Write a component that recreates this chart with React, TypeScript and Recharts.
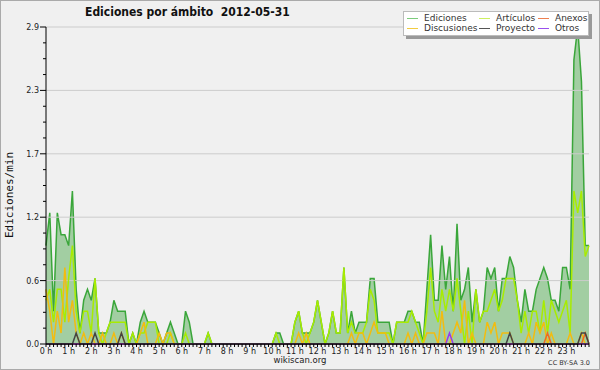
import React from "react";
import { ComposedChart, Area, Line, XAxis, YAxis, ReferenceLine } from "recharts";

// one value every 10 minutes, 0 h .. 24 h (145 points)
const hourLabels = [
  "0 h", "1 h", "2 h", "3 h", "4 h", "5 h", "6 h", "7 h", "8 h", "9 h", "10 h", "11 h",
  "12 h", "13 h", "14 h", "15 h", "16 h", "17 h", "18 h", "19 h", "20 h", "21 h", "22 h", "23 h",
];

const ediciones = [
  0.9, 1.2, 0.3, 1.2, 1.0, 1.0,
  0.9, 1.4, 0.5, 0.1, 0.4, 0.5,
  0.4, 0.6, 0.1, 0.1, 0.1, 0.2,
  0.4, 0.3, 0.3, 0.3, 0.0, 0.1,
  0.0, 0.2, 0.3, 0.2, 0.2, 0.2,
  0.1, 0.0, 0.1, 0.2, 0.1, 0.0,
  0.0, 0.3, 0.2, 0.0, 0.0, 0.0,
  0.0, 0.1, 0.0, 0.0, 0.0, 0.0,
  0.0, 0.0, 0.0, 0.0, 0.0, 0.0,
  0.0, 0.0, 0.0, 0.0, 0.0, 0.0,
  0.0, 0.1, 0.1, 0.0, 0.0, 0.0,
  0.2, 0.3, 0.1, 0.1, 0.1, 0.2,
  0.4, 0.2, 0.0, 0.1, 0.3, 0.1,
  0.1, 0.7, 0.1, 0.3, 0.1, 0.2,
  0.2, 0.2, 0.6, 0.6, 0.2, 0.2,
  0.2, 0.2, 0.0, 0.2, 0.2, 0.2,
  0.3, 0.3, 0.2, 0.2, 0.0, 0.5,
  1.0, 0.4, 0.4, 0.9, 0.5, 0.8,
  0.3, 1.1, 0.4, 0.5, 0.7, 0.2,
  0.5, 0.2, 0.3, 0.7, 0.6, 0.7,
  0.3, 0.6, 0.6, 0.8, 0.7, 0.4,
  0.2, 0.5, 0.3, 0.3, 0.5, 0.6,
  0.7, 0.6, 0.4, 0.4, 0.3, 0.7,
  0.7, 0.5, 2.6, 2.9, 2.4, 0.9,
  0.9,
];

const articulos = [
  0.4, 0.5, 0.2, 0.5, 0.5, 0.2,
  0.6, 0.9, 0.3, 0.1, 0.3, 0.3,
  0.1, 0.6, 0.1, 0.0, 0.1, 0.2,
  0.2, 0.2, 0.2, 0.2, 0.0, 0.1,
  0.0, 0.1, 0.1, 0.2, 0.2, 0.2,
  0.0, 0.0, 0.0, 0.1, 0.0, 0.0,
  0.0, 0.1, 0.0, 0.0, 0.0, 0.0,
  0.0, 0.1, 0.0, 0.0, 0.0, 0.0,
  0.0, 0.0, 0.0, 0.0, 0.0, 0.0,
  0.0, 0.0, 0.0, 0.0, 0.0, 0.0,
  0.0, 0.1, 0.0, 0.0, 0.0, 0.0,
  0.2, 0.3, 0.1, 0.0, 0.1, 0.2,
  0.4, 0.2, 0.0, 0.1, 0.3, 0.1,
  0.1, 0.7, 0.1, 0.2, 0.1, 0.1,
  0.1, 0.2, 0.5, 0.4, 0.1, 0.1,
  0.1, 0.1, 0.0, 0.2, 0.2, 0.2,
  0.2, 0.3, 0.2, 0.1, 0.0, 0.3,
  0.7, 0.3, 0.2, 0.5, 0.3, 0.5,
  0.3, 0.6, 0.3, 0.0, 0.3, 0.0,
  0.5, 0.2, 0.3, 0.3, 0.4, 0.5,
  0.3, 0.4, 0.6, 0.6, 0.6, 0.4,
  0.1, 0.3, 0.1, 0.3, 0.3, 0.1,
  0.4, 0.1, 0.4, 0.3, 0.2, 0.3,
  0.4, 0.1, 1.4, 1.2, 1.4, 0.8,
  0.9,
];

const discusiones = [
  0.5, 0.3, 0.0, 0.3, 0.1, 0.7,
  0.2, 0.4, 0.1, 0.0, 0.1, 0.0,
  0.1, 0.0, 0.0, 0.1, 0.0, 0.0,
  0.1, 0.0, 0.1, 0.0, 0.0, 0.0,
  0.0, 0.1, 0.2, 0.0, 0.0, 0.0,
  0.1, 0.0, 0.1, 0.1, 0.0, 0.0,
  0.0, 0.0, 0.0, 0.0, 0.0, 0.0,
  0.0, 0.0, 0.0, 0.0, 0.0, 0.0,
  0.0, 0.0, 0.0, 0.0, 0.0, 0.0,
  0.0, 0.0, 0.0, 0.0, 0.0, 0.0,
  0.0, 0.0, 0.0, 0.0, 0.0, 0.0,
  0.0, 0.1, 0.0, 0.1, 0.0, 0.0,
  0.0, 0.0, 0.0, 0.0, 0.0, 0.0,
  0.0, 0.0, 0.0, 0.1, 0.0, 0.1,
  0.1, 0.0, 0.1, 0.2, 0.1, 0.1,
  0.1, 0.0, 0.0, 0.0, 0.0, 0.0,
  0.1, 0.0, 0.1, 0.0, 0.0, 0.1,
  0.1, 0.1, 0.0, 0.3, 0.0, 0.0,
  0.1, 0.2, 0.1, 0.4, 0.0, 0.1,
  0.0, 0.0, 0.0, 0.2, 0.1, 0.2,
  0.0, 0.1, 0.1, 0.1, 0.0, 0.0,
  0.0, 0.0, 0.1, 0.0, 0.2, 0.1,
  0.2, 0.0, 0.1, 0.0, 0.0, 0.0,
  0.0, 0.1, 0.0, 0.0, 0.1, 0.0,
  0.0,
];

const proyecto = [
  0, 0, 0, 0, 0, 0,
  0, 0, 0.1, 0, 0, 0,
  0, 0.1, 0, 0, 0, 0,
  0, 0, 0.1, 0, 0, 0,
  0, 0, 0, 0, 0, 0,
  0, 0, 0, 0, 0, 0,
  0, 0, 0, 0, 0, 0,
  0, 0, 0, 0, 0, 0,
  0, 0, 0, 0, 0, 0,
  0, 0, 0, 0, 0, 0,
  0, 0, 0, 0, 0, 0,
  0, 0, 0, 0, 0, 0,
  0, 0, 0, 0, 0, 0,
  0, 0, 0, 0, 0, 0,
  0, 0, 0, 0, 0, 0,
  0, 0, 0, 0, 0, 0,
  0, 0, 0, 0, 0, 0,
  0, 0, 0, 0, 0, 0,
  0, 0, 0, 0, 0, 0,
  0, 0, 0, 0, 0, 0,
  0, 0, 0, 0.1, 0, 0,
  0, 0, 0, 0, 0, 0,
  0, 0, 0, 0, 0, 0,
  0, 0, 0, 0, 0.1, 0.1,
  0,
];

const anexos = [
  0, 0, 0, 0, 0, 0,
  0, 0, 0, 0, 0, 0,
  0, 0, 0, 0, 0, 0,
  0, 0, 0, 0, 0, 0,
  0, 0, 0, 0, 0, 0,
  0, 0, 0, 0, 0, 0,
  0, 0, 0, 0, 0, 0,
  0, 0, 0, 0, 0, 0,
  0, 0, 0, 0, 0, 0,
  0, 0, 0, 0, 0, 0,
  0, 0, 0, 0, 0, 0,
  0, 0, 0, 0, 0, 0,
  0, 0, 0, 0, 0, 0,
  0, 0, 0, 0, 0, 0,
  0, 0, 0, 0, 0, 0,
  0, 0, 0, 0, 0, 0,
  0, 0, 0, 0, 0, 0,
  0, 0, 0, 0, 0, 0,
  0, 0, 0, 0, 0, 0,
  0, 0, 0, 0, 0, 0,
  0, 0, 0, 0, 0, 0,
  0, 0, 0, 0, 0, 0,
  0, 0.1, 0, 0, 0, 0,
  0, 0, 0, 0, 0, 0.1,
  0,
];

const otros = [
  0, 0, 0, 0, 0, 0,
  0, 0, 0, 0, 0, 0,
  0, 0, 0, 0, 0, 0,
  0, 0, 0, 0, 0, 0,
  0, 0, 0, 0, 0, 0,
  0, 0, 0, 0, 0, 0,
  0, 0, 0, 0, 0, 0,
  0, 0, 0, 0, 0, 0,
  0, 0, 0, 0, 0, 0,
  0, 0, 0, 0, 0, 0,
  0, 0, 0, 0, 0, 0,
  0, 0, 0, 0, 0, 0,
  0, 0, 0, 0, 0, 0,
  0, 0, 0, 0, 0, 0,
  0, 0, 0, 0, 0, 0,
  0, 0, 0, 0, 0, 0,
  0, 0, 0, 0, 0, 0,
  0, 0, 0, 0, 0, 0.1,
  0, 0, 0, 0, 0, 0,
  0, 0, 0, 0, 0, 0,
  0, 0, 0, 0, 0, 0,
  0, 0, 0, 0, 0, 0,
  0, 0, 0, 0, 0, 0,
  0, 0, 0, 0, 0, 0,
  0,
];

const yMajor = [0, 0.58, 1.16, 1.74, 2.32, 2.9];
const yTicks = [
  0, 0.145, 0.29, 0.435, 0.58, 0.725, 0.87, 1.015, 1.16, 1.305, 1.45, 1.595, 1.74,
  1.885, 2.03, 2.175, 2.32, 2.465, 2.61, 2.755, 2.9,
];

const C = {
  ediciones: "#3aa63a",
  edFill: "#a2cea2",
  articulos: "#a8ec00",
  discusiones: "#f2bc10",
  anexos: "#ee6a22",
  proyecto: "#444444",
  otros: "#9a38ec",
};

const legendItems = [
  { label: "Ediciones", color: "#7ccc7c", x: 404, y: 18 },
  { label: "Discusiones", color: "#f2cc40", x: 404, y: 28 },
  { label: "Artículos", color: "#cdf060", x: 476, y: 18 },
  { label: "Proyecto", color: "#555555", x: 476, y: 28 },
  { label: "Anexos", color: "#ee8050", x: 535, y: 18 },
  { label: "Otros", color: "#9a50ee", x: 535, y: 28 },
];

const xTicks = ediciones.map((_, i) => i);

const data = ediciones.map((v, i) => ({
  t: i,
  ediciones: v,
  articulos: articulos[i],
  discusiones: discusiones[i],
  proyecto: proyecto[i],
  anexos: anexos[i],
  otros: otros[i],
}));

const XTick = ({ x, y, payload }: any) => {
  const v = payload.value;
  const label = v % 6 === 0 ? hourLabels[v / 6] : undefined;
  return (
    <g>
      <line x1={x} x2={x} y1={y} y2={y + 3} stroke="#000" />
      {label && (
        <text x={x} y={y + 10} textAnchor="middle" fontSize={8} fill="#222" fontFamily="DejaVu Sans">
          {label}
        </text>
      )}
    </g>
  );
};

const YTick = ({ x, y, payload }: any) => {
  const v = payload.value;
  const major = yMajor.some((m) => Math.abs(m - v) < 0.001);
  return (
    <g>
      <line x1={x - (major ? 6 : 3)} x2={x} y1={y} y2={y} stroke="#000" />
      {major && (
        <text x={x - 7} y={y + 3} textAnchor="end" fontSize={8} fill="#222" fontFamily="DejaVu Sans">
          {v.toFixed(1)}
        </text>
      )}
    </g>
  );
};

export default function App() {
  return (
    <div style={{ position: "absolute", left: 0, top: 0, width: 600, height: 370, background: "#f0f0f0" }}>
      <ComposedChart
        width={600}
        height={370}
        data={data}
        margin={{ top: 27, right: 11, bottom: 10, left: 8 }}
      >
        {yMajor.slice(1).map((v) => (
          <ReferenceLine key={v} y={v} stroke="#cccccc" strokeWidth={1} />
        ))}
        <XAxis
          type="number"
          dataKey="t"
          domain={[0, 144]}
          ticks={xTicks}
          interval={0}
          tickSize={0}
          tickMargin={0}
          tickLine={false}
          axisLine={{ stroke: "#000" }}
          tick={<XTick />}
          height={16}
        />
        <YAxis
          type="number"
          domain={[0, 2.9]}
          ticks={yTicks}
          interval={0}
          tickSize={0}
          tickMargin={0}
          tickLine={false}
          axisLine={{ stroke: "#000" }}
          tick={<YTick />}
          width={38}
        />
        <Area
          type="linear"
          dataKey="ediciones"
          stroke={C.ediciones}
          strokeWidth={1.5}
          fill={C.edFill}
          fillOpacity={1}
          isAnimationActive={false}
          dot={false}
        />
        <Line type="linear" dataKey="articulos" stroke={C.articulos} strokeWidth={1.5} dot={false} isAnimationActive={false} />
        <Line type="linear" dataKey="discusiones" stroke={C.discusiones} strokeWidth={1.5} dot={false} isAnimationActive={false} />
        <Line type="linear" dataKey="anexos" stroke={C.anexos} strokeWidth={1.5} dot={false} isAnimationActive={false} />
        <Line type="linear" dataKey="otros" stroke={C.otros} strokeWidth={1.5} dot={false} isAnimationActive={false} />
        <Line type="linear" dataKey="proyecto" stroke={C.proyecto} strokeWidth={1.5} dot={false} isAnimationActive={false} />
      </ComposedChart>

      <div
        style={{
          position: "absolute", left: 85, top: 5, fontFamily: "DejaVu Sans Condensed", fontWeight: "bold",
          fontSize: 12, color: "#111", whiteSpace: "pre",
        }}
      >
        {"Ediciones por ámbito  2012-05-31"}
      </div>

      <div
        style={{
          position: "absolute", left: 10, top: 195, width: 0, height: 0,
        }}
      >
        <div
          style={{
            position: "absolute", left: -60, top: -7, width: 120, textAlign: "center",
            transform: "rotate(-90deg)", fontFamily: "DejaVu Sans Mono", fontSize: 11, color: "#111",
            lineHeight: "14px",
          }}
        >
          Ediciones/min
        </div>
      </div>

      <div
        style={{
          position: "absolute", left: 406, top: 14, width: 186, height: 25, background: "#999",
        }}
      />
      <div
        style={{
          position: "absolute", left: 403, top: 11, width: 186, height: 25, background: "#fff",
          border: "1px solid #bbb", boxSizing: "border-box",
        }}
      />
      {legendItems.map((it) => (
        <div key={it.label} style={{ position: "absolute", left: it.x, top: it.y - 6, height: 12 }}>
          <div style={{ position: "absolute", left: 3, top: 6, width: 11, height: 1, background: it.color }} />
          <div
            style={{
              position: "absolute", left: 20, top: -0.5, fontFamily: "DejaVu Sans", fontSize: 9,
              color: "#333", whiteSpace: "nowrap", lineHeight: "12px",
            }}
          >
            {it.label}
          </div>
        </div>
      ))}

      <div
        style={{
          position: "absolute", left: 0, width: 600, top: 356, textAlign: "center",
          fontFamily: "DejaVu Sans", fontSize: 8.5, color: "#222", lineHeight: "9px",
        }}
      >
        wikiscan.org
      </div>
      <div
        style={{
          position: "absolute", right: 10, top: 359, fontFamily: "DejaVu Sans", fontSize: 6.5, color: "#333",
        }}
      >
        CC BY-SA 3.0
      </div>
      <div
        style={{
          position: "absolute", left: 0, top: 0, width: 600, height: 370, boxSizing: "border-box",
          border: "1px solid #aaa", pointerEvents: "none",
        }}
      />
    </div>
  );
}
